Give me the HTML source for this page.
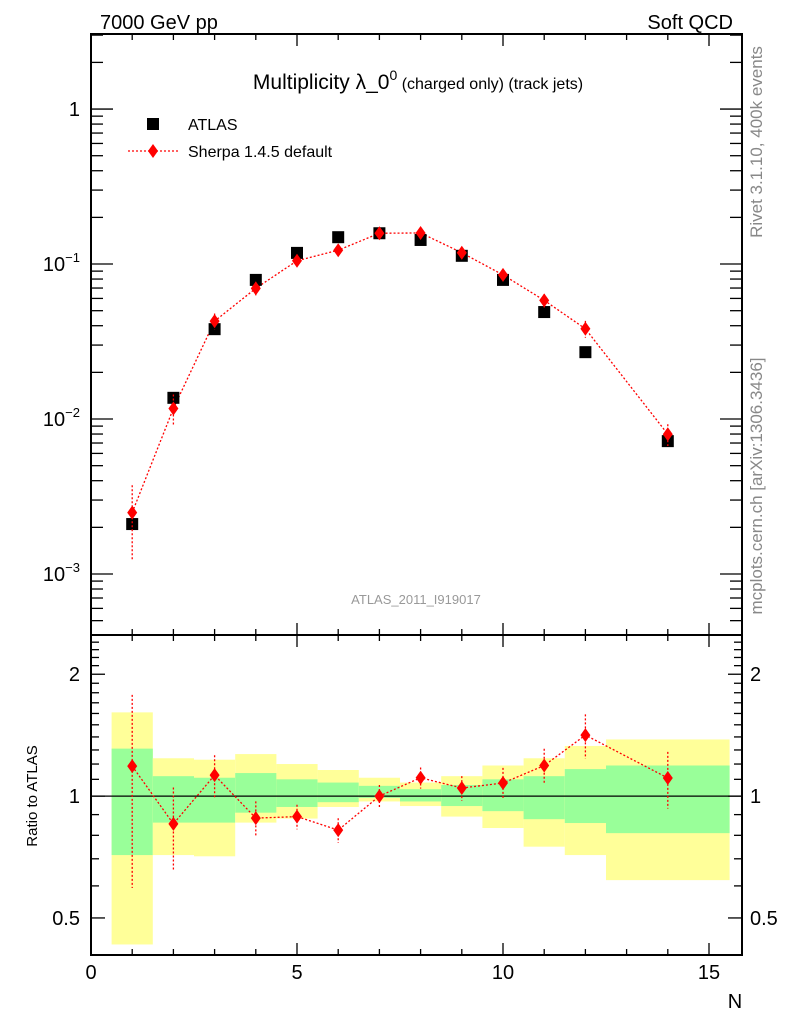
<!DOCTYPE html>
<html><head><meta charset="utf-8"><style>
body{margin:0;background:#fff}
svg{display:block;font-family:"Liberation Sans",sans-serif}
</style></head><body>
<svg id="c" width="786" height="1024" viewBox="0 0 786 1024">
<g id="bands"></g>
<g id="marks"></g>
<g id="axes"></g>
<text x="100" y="29" font-size="20">7000 GeV pp</text>
<text x="733" y="29" font-size="20" text-anchor="end">Soft QCD</text>
<text x="418" y="89" font-size="21" text-anchor="middle">Multiplicity λ_0<tspan font-size="14" dy="-9">0</tspan><tspan font-size="16" dy="9"> (charged only) (track jets)</tspan></text>
<g>
<rect x="147" y="118" width="12" height="12" fill="#000"/>
<text x="188" y="130" font-size="16">ATLAS</text>
<line x1="128" y1="151" x2="180" y2="151" stroke="#f00" stroke-width="1.3" stroke-dasharray="2,2"/>
<path d="M153,144 L158,151 L153,158 L148,151Z" fill="#f00"/>
<text x="188" y="157" font-size="16">Sherpa 1.4.5 default</text>
</g>
<text x="416" y="604" font-size="13" fill="#999" text-anchor="middle">ATLAS_2011_I919017</text>
<text transform="translate(762,142) rotate(-90)" font-size="17" fill="#888" text-anchor="middle">Rivet 3.1.10,  400k events</text>
<text transform="translate(762,486) rotate(-90)" font-size="17" fill="#888" text-anchor="middle">mcplots.cern.ch [arXiv:1306.3436]</text>
<text transform="translate(37,796) rotate(-90)" font-size="15" text-anchor="middle">Ratio to ATLAS</text>
<text x="735" y="1008" font-size="20" text-anchor="middle">N</text>
</svg>
<script>
const nVals=[1,2,3,4,5,6,7,8,9,10,11,12,14];
const atlas=[0.0021,0.0137,0.038,0.079,0.118,0.149,0.158,0.143,0.113,0.079,0.049,0.027,0.0072];
const sherpa=[0.00249,0.0117,0.0428,0.0697,0.105,0.1228,0.158,0.1587,0.1183,0.0851,0.0583,0.0382,0.00798];
const sherpaRelErr=[0.5,0.23,0.12,0.1,0.07,0.07,0.065,0.06,0.07,0.09,0.1,0.125,0.16];
const binLo=[0.5,1.5,2.5,3.5,4.5,5.5,6.5,7.5,8.5,9.5,10.5,11.5,12.5];
const binHi=[1.5,2.5,3.5,4.5,5.5,6.5,7.5,8.5,9.5,10.5,11.5,12.5,15.5];
const yellowUp=[1.61,1.24,1.23,1.27,1.2,1.16,1.11,1.08,1.12,1.19,1.24,1.33,1.38];
const yellowDn=[0.43,0.715,0.71,0.86,0.88,0.94,0.97,0.945,0.89,0.834,0.75,0.715,0.62];
const greenUp=[1.31,1.12,1.11,1.14,1.1,1.08,1.06,1.04,1.065,1.1,1.12,1.166,1.19];
const greenDn=[0.715,0.86,0.86,0.91,0.94,0.966,0.99,0.97,0.945,0.918,0.877,0.858,0.81];
const xTicks=[0,5,10,15];
const mainTicks=[1,0.1,0.01,0.001];
const mainTickLabels=["1","10","10","10"];
const mainTickExp=["","−1","−2","−3"];
const ratioTicks=[0.5,1,2];
const ratioTickLabels=["0.5","1","2"];

const L=91,R=742,T=34,M=635,B=955;
const X0=0,X1=(R-L)/41.2;
const sx=v=>L+(v-X0)/(X1-X0)*(R-L);
const yMax=Math.log10(3.05),yMin=Math.log10(4.04e-4);
const sy=v=>T+(yMax-Math.log10(v))/(yMax-yMin)*(M-T);
const rMax=Math.log10(2.5),rMin=Math.log10(0.405);
const sr=v=>M+(rMax-Math.log10(v))/(rMax-rMin)*(B-M);
const NS="http://www.w3.org/2000/svg";
function mk(p,tag,at){const e=document.createElementNS(NS,tag);for(const k in at)e.setAttribute(k,at[k]);p.appendChild(e);return e;}
const gb=document.getElementById('bands'),gm=document.getElementById('marks'),ga=document.getElementById('axes');

for(let i=0;i<binLo.length;i++){
 const y=mk(gb,'rect',{x:sx(binLo[i]),width:sx(binHi[i])-sx(binLo[i]),y:sr(yellowUp[i]),height:sr(yellowDn[i])-sr(yellowUp[i]),fill:'#ffff99'});
 
 
 const g=mk(gb,'rect',{x:sx(binLo[i]),width:sx(binHi[i])-sx(binLo[i]),y:sr(greenUp[i]),height:sr(greenDn[i])-sr(greenUp[i]),fill:'#99ff99'});
 
 
}
const ref=mk(gm,'line',{x1:L,x2:R,y1:sr(1),y2:sr(1),stroke:'#000','stroke-width':1.2});



function diamond(p,x,y){const d=mk(p,'path',{d:`M${x},${y-7}L${x+5},${y}L${x},${y+7}L${x-5},${y}Z`,fill:'#f00'});return d;}
let pts=nVals.map((n,i)=>sx(n)+','+sy(sherpa[i])).join(' ');
const ml=mk(gm,'polyline',{points:pts,fill:'none',stroke:'#f00','stroke-width':1.3,'stroke-dasharray':'2,2'});


let rpts=nVals.map((n,i)=>sx(n)+','+sr(sherpa[i]/atlas[i])).join(' ');
const rl=mk(gm,'polyline',{points:rpts,fill:'none',stroke:'#f00','stroke-width':1.3,'stroke-dasharray':'2,2'});


for(let i=0;i<nVals.length;i++){
 const x=sx(nVals[i]);
 const a=mk(gm,'rect',{x:x-6,y:sy(atlas[i])-6,width:12,height:12,fill:'#000'});
 
 
 const s=sherpa[i],e=sherpaRelErr[i];
 const eb=mk(gm,'line',{x1:x,x2:x,y1:sy(s*(1+e)),y2:sy(s*(1-e)),stroke:'#f00','stroke-width':1.3,'stroke-dasharray':'2,2'});
 
 
 const d=diamond(gm,x,sy(s));
 
 
 const r=s/atlas[i];
 const eb2=mk(gm,'line',{x1:x,x2:x,y1:sr(r*(1+e)),y2:sr(r*(1-e)),stroke:'#f00','stroke-width':1.3,'stroke-dasharray':'2,2'});
 
 
 const d2=diamond(gm,x,sr(r));
 
 
}
const f1=mk(ga,'rect',{x:L,y:T,width:R-L,height:M-T,fill:'none',stroke:'#000','stroke-width':2});


const f2=mk(ga,'rect',{x:L,y:M,width:R-L,height:B-M,fill:'none',stroke:'#000','stroke-width':2});


function tick(x1,y1,x2,y2){const t=mk(ga,'line',{x1,y1,x2,y2,stroke:'#000','stroke-width':1.3});}
for(let v=0;v<=15;v++){
 const x=sx(v),len=(v%5==0)?12:6;
 [T,M,B].forEach(y0=>{ if(y0!==T) tick(x,y0,x,y0-len); if(y0!==B) tick(x,y0,x,y0+len);});
}
xTicks.forEach(v=>{const t=mk(ga,'text',{x:sx(v),y:979,'font-size':20,'text-anchor':'middle'});t.textContent=String(v);});
for(let d=-4;d<=0;d++){for(let m=1;m<10;m++){const v=m*Math.pow(10,d);if(v<4.04e-4||v>3.05)continue;const y=sy(v),len=m==1?22:12;tick(L,y,L+len,y);tick(R,y,R-len,y);}}
mainTicks.forEach((v,i)=>{const t=mk(ga,'text',{x:80,y:sy(v)+7,'font-size':20,'text-anchor':'end'});t.textContent=mainTickLabels[i];if(mainTickExp[i]){const s=mk(t,'tspan',{'font-size':13,dy:-9});s.textContent=mainTickExp[i];}});
for(let v=0.5;v<=2.5001;v+=0.1){const vv=Math.round(v*10)/10;const maj=(vv==0.5||vv==1||vv==2);const len=maj?14:8;const y=sr(vv);if(y<M+1)continue;tick(L,y,L+len,y);tick(R,y,R-len,y);}
ratioTicks.forEach((v,i)=>{const t=mk(ga,'text',{x:80,y:sr(v)+7,'font-size':20,'text-anchor':'end'});t.textContent=ratioTickLabels[i];
 const t2=mk(ga,'text',{x:750,y:sr(v)+7,'font-size':20});t2.textContent=ratioTickLabels[i];});
</script>
</body></html>
